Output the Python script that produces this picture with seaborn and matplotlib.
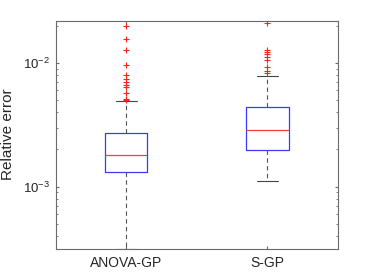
import numpy as np
import pandas as pd
import matplotlib
matplotlib.use('Agg')
import matplotlib.pyplot as plt
import seaborn as sns

# categories
methods = ['ANOVA-GP', 'S-GP']

# box summaries (relative error)
whisker_low = [3.15e-4, 1.11e-3]
q1 = [1.31e-3, 1.97e-3]
median = [1.79e-3, 2.86e-3]
q3 = [2.73e-3, 4.38e-3]
whisker_high = [4.93e-3, 7.85e-3]

# outliers
out_anova = [0.0200, 0.01554, 0.01281, 0.00963, 0.00796, 0.00747, 0.00706,
             0.00668, 0.00637, 0.00575, 0.00515, 0.00502]
out_sgp = [0.0211, 0.0128, 0.01233, 0.01183, 0.01112, 0.01057, 0.00923,
           0.00867, 0.00835]

# build a small table whose quartiles land on the read values
rows = []
for i, m in enumerate(methods):
    for v in [whisker_low[i], q1[i], q1[i], median[i], q3[i], q3[i], whisker_high[i]]:
        rows.append({'method': m, 'error': v})
box_df = pd.DataFrame(rows)

out_df = pd.DataFrame({
    'method': ['ANOVA-GP'] * len(out_anova) + ['S-GP'] * len(out_sgp),
    'error': out_anova + out_sgp,
})

sns.set_style('white')
plt.rcParams['font.family'] = ['Liberation Sans', 'DejaVu Sans']
plt.rcParams['mathtext.fontset'] = 'custom'
plt.rcParams['mathtext.rm'] = 'Liberation Sans'

fig = plt.figure(figsize=(3.74, 2.80), dpi=100)
ax = fig.add_axes([0.149, 0.112, 0.9037 - 0.149, 0.926 - 0.112])

sns.boxplot(data=box_df, x='method', y='error', order=methods, ax=ax,
            log_scale=True, whis=np.inf, width=0.3, fill=False,
            boxprops=dict(color='#3a3aff', linewidth=0.9),
            medianprops=dict(color='#ff3a3a', linewidth=0.9),
            whiskerprops=dict(color='#555555', linewidth=0.8, linestyle=(0, (4, 3))),
            capprops=dict(color='#444444', linewidth=0.8))

# red plus outliers
sns.scatterplot(data=out_df, x='method', y='error', ax=ax,
                marker='+', color='#ff2020', s=18, linewidth=0.8, zorder=5)

ax.set_xlim(-0.5, 1.5)
ax.set_ylim(3.15e-4, 0.022)
ax.set_xlabel('')
ax.set_ylabel('Relative error', fontsize=11, color='#262626', labelpad=6)

for s in ax.spines.values():
    s.set_color('#6b6b6b')
    s.set_linewidth(0.8)
    s.set_visible(True)

ax.tick_params(axis='both', which='both', direction='in', colors='#6b6b6b',
               labelcolor='#262626', left=True, right=True,
               top=True, bottom=True)
ax.tick_params(axis='y', which='major', length=2.2, pad=4, labelsize=9.5)
ax.tick_params(axis='y', which='minor', length=1.4)
ax.tick_params(axis='x', which='major', length=2.2, pad=5, labelsize=10)
ax.tick_params(axis='x', which='minor', length=0)

fig.savefig('out.png', dpi=100)
